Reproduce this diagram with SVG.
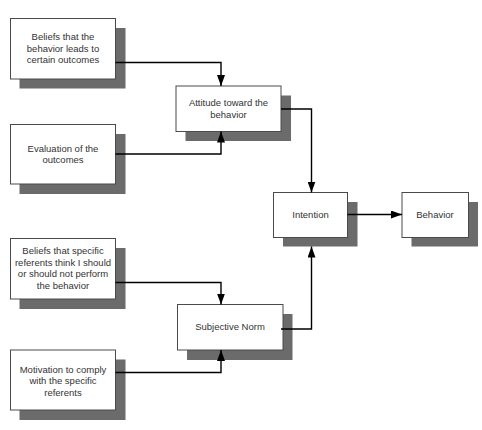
<svg xmlns="http://www.w3.org/2000/svg" width="482" height="430" viewBox="0 0 482 430">
<defs>
<style>
.sh{fill:#6b6b6b;}
.bx{fill:#ffffff;stroke:#4a4a4a;stroke-width:1;}
.t{font-family:"Liberation Sans",Arial,sans-serif;font-size:9.5px;fill:#333333;text-anchor:middle;}
.c{fill:none;stroke:#000000;stroke-width:1.4;marker-end:url(#ah);}
</style>
<marker id="ah" markerUnits="userSpaceOnUse" markerWidth="12" markerHeight="8" refX="11" refY="4" orient="auto">
<path d="M0,0 L11,4 L0,8 Z" fill="#000000"/>
</marker>
</defs>
<rect width="482" height="430" fill="#ffffff"/>
<g id="n-beliefs-outcomes">
<rect class="sh" x="19.5" y="28" width="106" height="60.5"/>
<rect class="bx" x="10.5" y="18.5" width="105" height="60.5"/>
<text class="t" x="63" y="40">Beliefs that the</text>
<text class="t" x="63" y="51.5">behavior leads to</text>
<text class="t" x="63" y="63">certain outcomes</text>
</g>
<g id="n-evaluation">
<rect class="sh" x="19.5" y="134" width="106" height="60"/>
<rect class="bx" x="10.5" y="124.5" width="105" height="59.5"/>
<text class="t" x="63" y="151.5">Evaluation of the</text>
<text class="t" x="63" y="163">outcomes</text>
</g>
<g id="n-attitude">
<rect class="sh" x="185.5" y="95.5" width="105.5" height="45.5"/>
<rect class="bx" x="176" y="86" width="105" height="45.5"/>
<text class="t" x="228.5" y="106">Attitude toward the</text>
<text class="t" x="228.5" y="117.5">behavior</text>
</g>
<g id="n-intention">
<rect class="sh" x="283" y="202" width="74.5" height="44.5"/>
<rect class="bx" x="273.5" y="192.5" width="74" height="45"/>
<text class="t" x="310.5" y="217.5">Intention</text>
</g>
<g id="n-behavior">
<rect class="sh" x="411.5" y="202" width="66.5" height="44.5"/>
<rect class="bx" x="402" y="192.5" width="66.5" height="45"/>
<text class="t" x="435" y="217.5">Behavior</text>
</g>
<g id="n-beliefs-referents">
<rect class="sh" x="19.5" y="248" width="106" height="61"/>
<rect class="bx" x="10.5" y="238.5" width="105" height="60.5"/>
<text class="t" x="63" y="254">Beliefs that specific</text>
<text class="t" x="63" y="265.5">referents think I should</text>
<text class="t" x="63" y="277">or should not perform</text>
<text class="t" x="63" y="288.5">the behavior</text>
</g>
<g id="n-subjective-norm">
<rect class="sh" x="187" y="314" width="105.5" height="46"/>
<rect class="bx" x="177.5" y="304.5" width="105.5" height="45.5"/>
<text class="t" x="230" y="330">Subjective Norm</text>
</g>
<g id="n-motivation">
<rect class="sh" x="19.5" y="359.5" width="106" height="60.5"/>
<rect class="bx" x="10.5" y="350" width="105" height="60"/>
<text class="t" x="63" y="372.5">Motivation to comply</text>
<text class="t" x="63" y="384">with the specific</text>
<text class="t" x="63" y="395.5">referents</text>
</g>
<g id="connectors">
<path class="c" d="M115.5,62.5 H221 V86"/>
<path class="c" d="M115.5,154 H221 V131.5"/>
<path class="c" d="M281,109 H311.5 V192.5"/>
<path class="c" d="M347.5,214.5 H402"/>
<path class="c" d="M115.5,282.5 H221 V304.5"/>
<path class="c" d="M115.5,372.5 H221 V350"/>
<path class="c" d="M281,329 H311.5 V246.5"/>
</g>
</svg>
